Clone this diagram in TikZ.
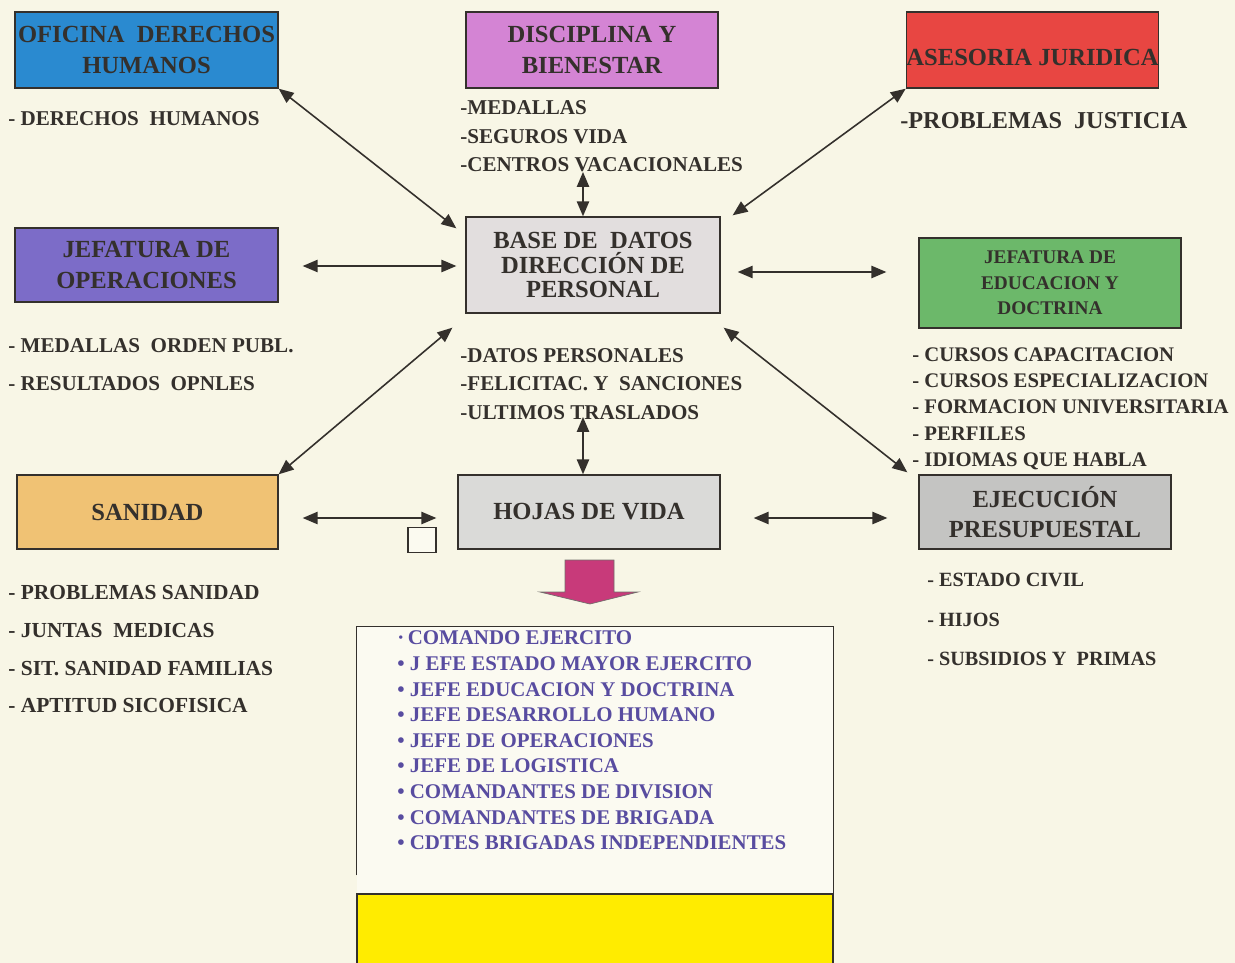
\documentclass[tikz,border=0pt]{standalone}
\usepackage{fontspec}
\setmainfont{Liberation Serif}
\usepackage{xcolor}
\usepackage{tikz}
\usetikzlibrary{arrows.meta, positioning, calc}

\definecolor{papel}{RGB}{248,246,230}
\definecolor{tinta}{RGB}{52,48,44}
\definecolor{azulofi}{RGB}{42,138,208}
\definecolor{rosadisc}{RGB}{212,132,212}
\definecolor{rojoases}{RGB}{232,70,66}
\definecolor{moradooper}{RGB}{124,108,200}
\definecolor{verdeeduc}{RGB}{108,184,106}
\definecolor{naranjasani}{RGB}{240,194,116}
\definecolor{grishojas}{RGB}{218,218,216}
\definecolor{grisejec}{RGB}{196,196,194}
\definecolor{grisbase}{RGB}{226,222,222}
\definecolor{amarillo}{RGB}{255,236,0}
\definecolor{fucsia}{RGB}{200,58,122}
\definecolor{lila}{RGB}{88,76,160}
\definecolor{blancolista}{RGB}{251,250,241}

\begin{document}
\begin{tikzpicture}[
    x=0.02cm, y=-0.02cm,
    box/.style={draw=tinta, line width=0.8pt, align=center, text=tinta, inner sep=0pt, font=\bfseries\fontsize{14}{17.5}\selectfont},
    unitbox/.style={box, minimum height=1.50cm},
    listtext/.style={align=left, anchor=north west, inner sep=0pt, text=tinta, font=\bfseries\fontsize{12}{16.4}\selectfont},
    itemline/.style={anchor=west, inner sep=0pt, text=tinta, font=\bfseries\fontsize{12}{14}\selectfont},
    link/.style={<->, >={Triangle[length=8.5pt, width=7pt]}, line width=0.9pt, tinta},
    frame/.style={draw=tinta, line width=0.8pt}
]
    \fill[papel] (0,0) rectangle (1235,963);
    \useasboundingbox (0,0) rectangle (1235,963);

    % Top row of offices.
    \node[unitbox, fill=azulofi, minimum width=5.26cm, minimum height=1.52cm] (ofi) at (146.5,50) {OFICINA\ \ DERECHOS\\HUMANOS};
    \node[unitbox, fill=rosadisc, minimum width=5.04cm, minimum height=1.52cm] (disc) at (592,50) {DISCIPLINA Y\\BIENESTAR};
    \node[unitbox, fill=rojoases, minimum width=5.02cm, minimum height=1.52cm, text height=17.2pt, text depth=0pt] (ases) at (1032.5,50) {ASESORIA JURIDICA};

    \node[itemline] (ofil) at (8,119) {- DERECHOS\ \ HUMANOS};
    \node[listtext] (discl) at (460,100) {-MEDALLAS\\-SEGUROS VIDA\\-CENTROS VACACIONALES};
    \node[itemline, font=\bfseries\fontsize{13.8}{16}\selectfont] (asesl) at (900,121) {-PROBLEMAS\ \ JUSTICIA};

    % Middle row around the central database.
    \node[unitbox, fill=moradooper, minimum width=5.26cm, minimum height=1.48cm] (oper) at (146.5,265) {JEFATURA DE\\OPERACIONES};
    \node[box, fill=grisbase, minimum width=5.08cm, minimum height=1.92cm, font=\bfseries\fontsize{14}{14}\selectfont] (base) at (593,265) {BASE DE\ \ DATOS\\DIRECCIÓN DE\\PERSONAL};
    \node[box, fill=verdeeduc, minimum width=5.24cm, minimum height=1.80cm, font=\bfseries\fontsize{11}{14.5}\selectfont] (educ) at (1050,283) {JEFATURA DE\\EDUCACION Y\\DOCTRINA};

    \node[listtext, font=\bfseries\fontsize{12}{21.5}\selectfont] (operl) at (8,338) {- MEDALLAS\ \ ORDEN PUBL.\\- RESULTADOS\ \ OPNLES};
    \node[listtext, font=\bfseries\fontsize{12}{16.2}\selectfont] (basel) at (460,348) {-DATOS PERSONALES\\-FELICITAC. Y\ \ SANCIONES\\-ULTIMOS TRASLADOS};
    \node[listtext, font=\bfseries\fontsize{11.8}{14.9}\selectfont] (educl) at (912,347.5) {- CURSOS CAPACITACION\\- CURSOS ESPECIALIZACION\\- FORMACION UNIVERSITARIA\\- PERFILES\\- IDIOMAS QUE HABLA};

    % Bottom row.
    \node[unitbox, fill=naranjasani, minimum width=5.22cm, minimum height=1.48cm] (sani) at (147.5,512) {SANIDAD};
    \node[unitbox, fill=grishojas, minimum width=5.24cm, minimum height=1.48cm] (hojas) at (589,512) {HOJAS DE VIDA};
    \node[unitbox, fill=grisejec, minimum width=5.04cm, minimum height=1.48cm] (ejec) at (1045,512) {EJECUCIÓN\\PRESUPUESTAL};
    \node[frame, fill=white!40!papel, minimum width=0.56cm, minimum height=0.50cm, inner sep=0pt] (cuadro) at (422,540) {};

    \node[listtext, font=\bfseries\fontsize{12.2}{21.5}\selectfont] (sanil) at (8,585) {- PROBLEMAS SANIDAD\\- JUNTAS\ \ MEDICAS\\- SIT. SANIDAD FAMILIAS\\- APTITUD SICOFISICA};
    \node[listtext, font=\bfseries\fontsize{11.5}{22.4}\selectfont] (ejecl) at (927,573) {- ESTADO CIVIL\\- HIJOS\\- SUBSIDIOS Y\ \ PRIMAS};

    % Connectors to the database.
    \draw[link] (ofi.south east) -- ($(base.north west)+(-9,12)$);
    \coordinate (dtop) at (583,172);
    \draw[link] (dtop) -- (dtop |- base.north);
    \draw[link] (ases.south west) -- ($(base.north east)+(12,-1)$);
    \draw[link] ($(oper.east)+(24,1)$) -- ($(base.west)+(-9,1)$);
    \draw[link] ($(base.east)+(17,7)$) -- ($(educ.west)+(-32,-11)$);
    \draw[link] ($(base.south west)+(-13,14)$) -- (sani.north east);
    \draw[link] ($(base.south east)+(3,14)$) -- ($(ejec.north west)+(-11,-2)$);
    \coordinate (htop) at (583,417);
    \draw[link] (htop) -- (htop |- hojas.north);
    \draw[link] ($(sani.east)+(24,6)$) -- ($(hojas.west)+(-21,6)$);
    \draw[link] ($(hojas.east)+(33,6)$) -- ($(ejec.west)+(-31,6)$);

    % Block arrow down to the list of users.
    \filldraw[fill=fucsia, draw=tinta!70, line width=0.4pt] (565,560) -- (614,560) -- (614,592) -- (638,592) -- (590,604) -- (540,592) -- (565,592) -- cycle;

    \node[fill=blancolista, minimum width=9.52cm, minimum height=5.32cm, inner sep=0pt] (marco) at (595,760) {};
    \draw[frame] ($(marco.south west)+(0,-18)$) -- (marco.north west) -- (marco.north east) -- (marco.south east);
    \node[frame, fill=amarillo, minimum width=9.52cm, minimum height=1.6cm, inner sep=0pt, below=0pt of marco] (pie) {};

    \node[listtext, text=lila, font=\bfseries\fontsize{11.9}{14.6}\selectfont] (cargos) at (397,630.5) {·\,COMANDO EJERCITO\\• J EFE ESTADO MAYOR EJERCITO\\• JEFE EDUCACION Y DOCTRINA\\• JEFE DESARROLLO HUMANO\\• JEFE DE OPERACIONES\\• JEFE DE LOGISTICA\\• COMANDANTES DE DIVISION\\• COMANDANTES DE BRIGADA\\• CDTES BRIGADAS INDEPENDIENTES};

\end{tikzpicture}
\end{document}
